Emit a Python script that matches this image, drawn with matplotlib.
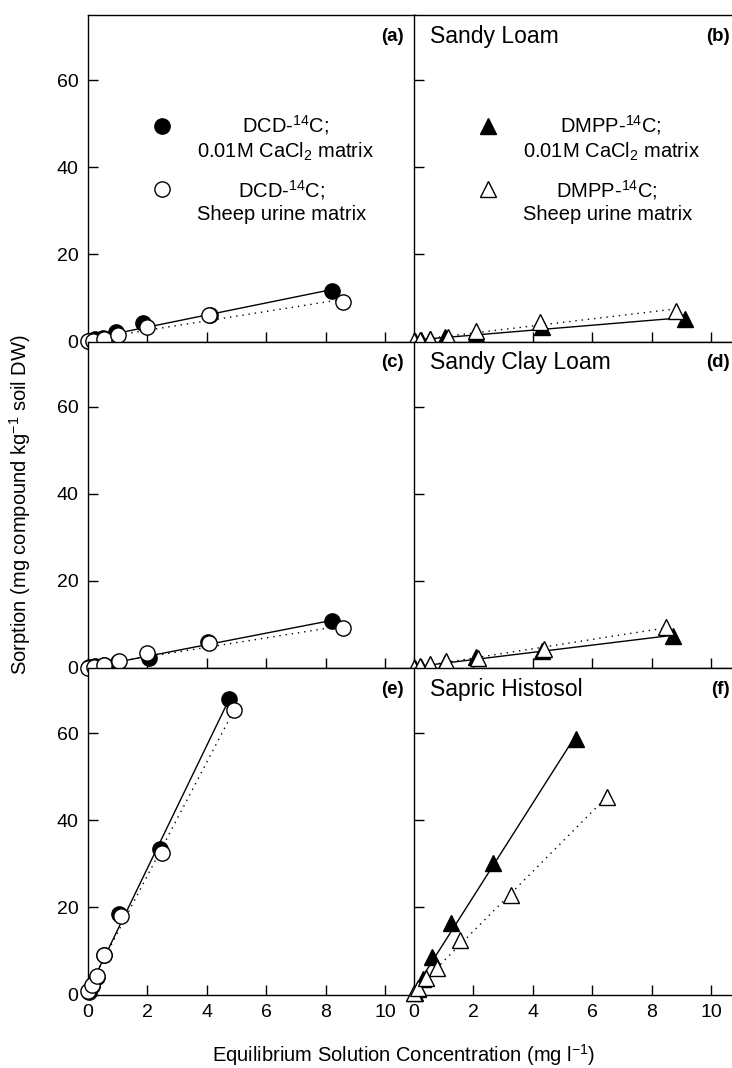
import numpy as np
import matplotlib
matplotlib.use("Agg")
import matplotlib.pyplot as plt
from matplotlib.legend_handler import HandlerLine2D

plt.rcParams["font.family"] = ["Liberation Sans", "DejaVu Sans"]
plt.rcParams["mathtext.default"] = "regular"

# ---- data (x: mg/l, y: mg/kg) ----
# DCD, 0.01M CaCl2 matrix (filled circles)
dcd_ca_x = {
    "a": [0.05, 0.25, 0.5, 0.94, 1.84, 4.1, 8.2],
    "c": [0.05, 0.25, 0.55, 1.0, 2.06, 4.05, 8.2],
    "e": [0.03, 0.12, 0.3, 0.55, 1.05, 2.42, 4.74],
}
dcd_ca_y = {
    "a": [0.2, 0.5, 0.9, 2.1, 4.2, 6.2, 11.7],
    "c": [0.2, 0.4, 0.7, 1.4, 2.4, 5.9, 10.8],
    "e": [0.6, 2.0, 4.0, 9.0, 18.6, 33.5, 67.8],
}
# DCD, sheep urine matrix (open circles)
dcd_su_x = {
    "a": [0.01, 0.18, 0.54, 1.02, 2.0, 4.07, 8.57],
    "c": [0.01, 0.2, 0.55, 1.04, 2.0, 4.07, 8.57],
    "e": [0.0, 0.12, 0.31, 0.55, 1.1, 2.48, 4.92],
}
dcd_su_y = {
    "a": [0.1, 0.2, 0.6, 1.5, 3.3, 6.0, 9.0],
    "c": [0.1, 0.3, 0.6, 1.5, 3.4, 5.8, 9.1],
    "e": [0.8, 2.2, 4.2, 9.0, 18.0, 32.6, 65.4],
}
# DMPP, 0.01M CaCl2 matrix (filled triangles)
dmpp_ca_x = {
    "b": [0.05, 0.25, 0.55, 1.05, 2.1, 4.3, 9.1],
    "d": [0.05, 0.25, 0.55, 1.05, 2.1, 4.3, 8.7],
    "f": [0.05, 0.12, 0.3, 0.61, 1.23, 2.66, 5.46],
}
dmpp_ca_y = {
    "b": [0.1, 0.3, 0.5, 1.0, 1.8, 3.3, 5.2],
    "d": [0.1, 0.3, 0.6, 1.2, 2.6, 3.8, 7.4],
    "f": [0.3, 1.2, 3.5, 8.7, 16.5, 30.3, 58.8],
}
# DMPP, sheep urine matrix (open triangles)
dmpp_su_x = {
    "b": [0.0, 0.2, 0.54, 1.13, 2.1, 4.23, 8.8],
    "d": [0.0, 0.2, 0.55, 1.06, 2.16, 4.36, 8.48],
    "f": [0.0, 0.15, 0.4, 0.79, 1.54, 3.26, 6.5],
}
dmpp_su_y = {
    "b": [0.1, 0.3, 0.6, 1.1, 2.5, 4.4, 7.1],
    "d": [0.1, 0.4, 0.9, 1.6, 2.2, 4.3, 9.5],
    "f": [0.3, 1.5, 3.8, 6.1, 12.6, 22.8, 45.4],
}

soil_names = {"b": "Sandy Loam", "d": "Sandy Clay Loam", "f": "Sapric Histosol"}
x_ticks = [0, 2, 4, 6, 8, 10]
y_ticks = [0, 20, 40, 60]

W, H = 732, 1068
fig = plt.figure(figsize=(W / 100, H / 100), dpi=100)

px_w, px_h = 327, 326.5
col_x = [88, 414]
row_top = [15, 341.5, 668]
layout = [["a", "b"], ["c", "d"], ["e", "f"]]


class FirstLineHandler(HandlerLine2D):
    """Put the legend marker level with the first line of a two-line label."""
    def create_artists(self, legend, orig_handle, xdescent, ydescent,
                       width, height, fontsize, trans):
        arts = super().create_artists(legend, orig_handle, xdescent, ydescent,
                                      width, height, fontsize, trans)
        for a in arts:
            a.set_ydata(np.asarray(a.get_ydata()) + 0.62 * fontsize)
        return arts


def fit_line(ax, x, y, style):
    x = np.asarray(x)
    y = np.asarray(y)
    k, b = np.polyfit(x, y, 1)
    xs = np.array([0.0, x.max()])
    ax.plot(xs, k * xs + max(b, 0), color="black", lw=1.0, ls=style, zorder=2)


for r, row in enumerate(layout):
    for c, key in enumerate(row):
        rect = [col_x[c] / W, 1 - (row_top[r] + px_h) / H, px_w / W, px_h / H]
        ax = fig.add_axes(rect)
        ax.set_xlim(0, 11)
        ax.set_ylim(0, 75)
        ax.set_xticks(x_ticks)
        ax.set_yticks(y_ticks)
        ax.tick_params(direction="in", length=7, width=1, labelsize=14,
                       top=False, right=False, pad=7)
        for s in ax.spines.values():
            s.set_linewidth(1.0)
        if c == 1:
            ax.tick_params(labelleft=False)
        if r < 2:
            ax.tick_params(labelbottom=False)

        if c == 0:
            xf, yf, xo, yo = dcd_ca_x[key], dcd_ca_y[key], dcd_su_x[key], dcd_su_y[key]
            mk, ms = "o", 11
            lab_f = "DCD-$^{14}$C;\n0.01M CaCl$_2$ matrix"
            lab_o = "DCD-$^{14}$C;\nSheep urine matrix"
        else:
            xf, yf, xo, yo = dmpp_ca_x[key], dmpp_ca_y[key], dmpp_su_x[key], dmpp_su_y[key]
            mk, ms = "^", 11.5
            lab_f = "DMPP-$^{14}$C;\n0.01M CaCl$_2$ matrix"
            lab_o = "DMPP-$^{14}$C;\nSheep urine matrix"

        fit_line(ax, xf, yf, "-")
        fit_line(ax, xo, yo, (0, (1, 3.5)))
        hf, = ax.plot(xf, yf, ls="none", marker=mk, ms=ms, mfc="black", mec="black",
                      mew=1.0, clip_on=False, zorder=4, label=lab_f)
        ho, = ax.plot(xo, yo, ls="none", marker=mk, ms=ms, mfc="white", mec="black",
                      mew=1.0, clip_on=False, zorder=5, label=lab_o)

        ax.text(0.965, 0.935, f"({key})", transform=ax.transAxes, ha="right",
                va="center", fontsize=13.5, fontweight="bold")
        if key in soil_names:
            ax.text(0.05, 0.935, soil_names[key], transform=ax.transAxes,
                    ha="left", va="center", fontsize=16.5)

        if r == 0:
            leg = ax.legend(handles=[hf, ho], loc="center",
                            bbox_to_anchor=(0.535, 0.53), frameon=False,
                            fontsize=14.5, handletextpad=1.2, labelspacing=0.75,
                            handlelength=1.0,
                            handler_map={hf: FirstLineHandler(), ho: FirstLineHandler()})
            for t in leg.get_texts():
                t.set_multialignment("center")

fig.text(20 / W, 1 - 505 / H, "Sorption (mg compound kg$^{-1}$ soil DW)",
         rotation=90, ha="center", va="center", fontsize=14.5)
fig.text(404 / W, 1 - 1055 / H, "Equilibrium Solution Concentration (mg l$^{-1}$)",
         ha="center", va="center", fontsize=14.5)

fig.savefig("out.png", dpi=100)
